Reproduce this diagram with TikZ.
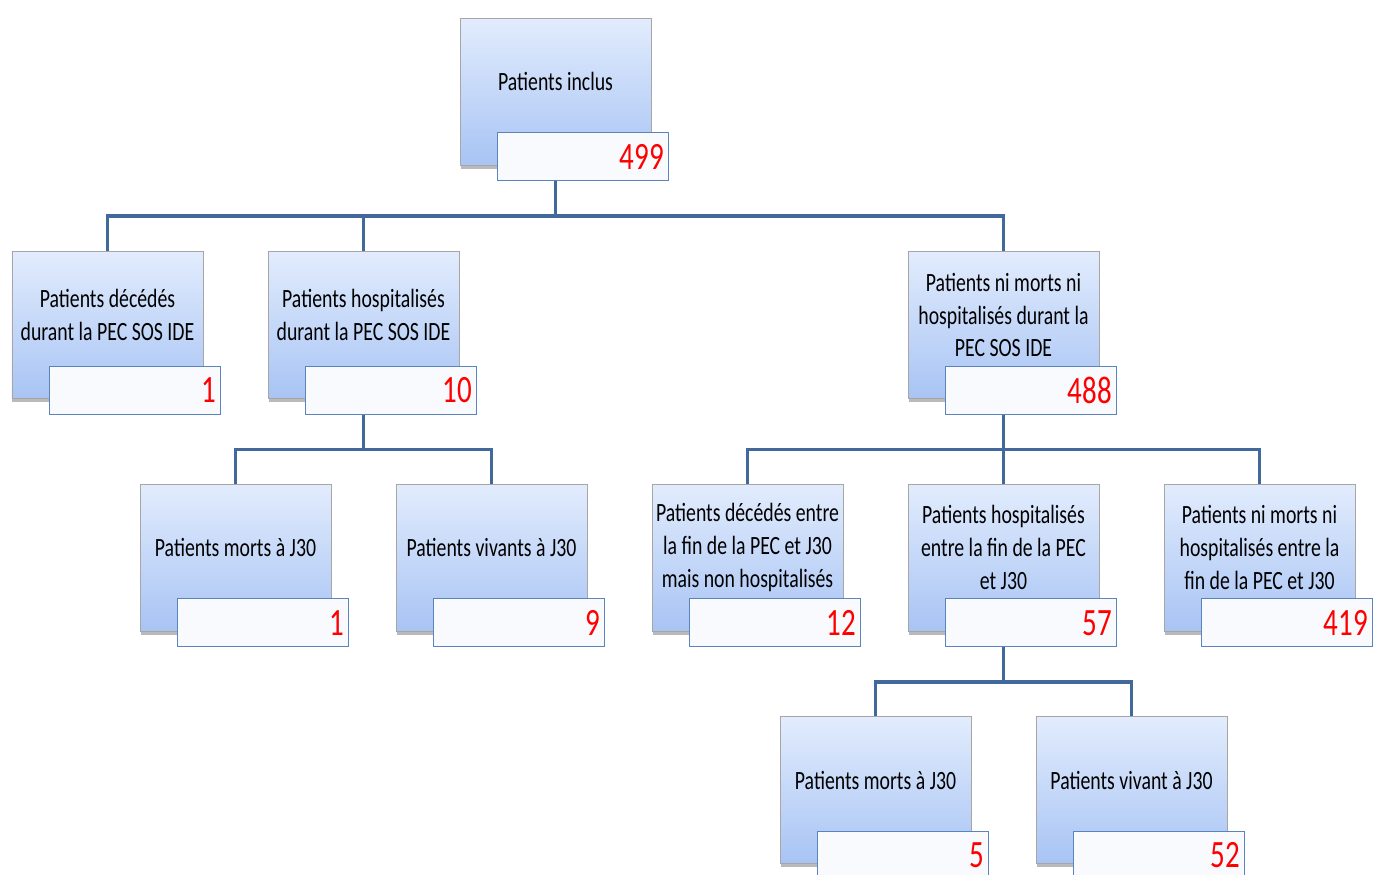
\documentclass[tikz,border=0pt]{standalone}
\usepackage{fontspec}
\setmainfont{Carlito}[FakeStretch=0.75]
\usetikzlibrary{shadows}
\usepackage{xcolor}
\definecolor{box-top}{HTML}{E2ECFD}
\definecolor{box-bottom}{HTML}{A8C4F4}
\definecolor{connector}{HTML}{41699C}
\definecolor{count-border}{HTML}{5B84BE}
\definecolor{count-fill}{HTML}{F8FAFE}

\begin{document}
\begin{tikzpicture}[
	patientbox/.style={draw=gray!70, line width=0.5pt, top color=box-top, bottom color=box-bottom,
		minimum width=3.82cm, minimum height=2.94cm, inner sep=0pt,
		drop shadow={shadow xshift=0.01cm, shadow yshift=-0.07cm, fill=black!60, opacity=0.45}},
	boxtext/.style={align=center, font=\fontsize{15pt}{18.7pt}\selectfont, inner sep=0pt},
	countbox/.style={draw=count-border, line width=0.8pt, fill=count-fill, anchor=south east,
		minimum width=3.42cm, minimum height=0.96cm, text width=3.22cm, align=right, inner xsep=0.1cm,
		text=red, font=\fontsize{22pt}{24pt}\selectfont},
	branch/.style={draw=connector, line width=2.2pt}
]
	\useasboundingbox (0,0) rectangle (27.48,-17.48);
	% top level
	\node[patientbox] (incl) at (11.11,-1.83) {};
	\node[boxtext] (tincl) at ([yshift=0.2cm]incl.center) {Patients inclus};
	\node[countbox] (nincl) at ([xshift=0.36cm,yshift=-0.32cm]incl.south east) {499};
	% during the PEC
	\node[patientbox] (dec) at (2.15,-6.5) {};
	\node[boxtext] (tdec) at ([yshift=0.2cm]dec.center) {Patients décédés\\durant la PEC SOS IDE};
	\node[countbox] (ndec) at ([xshift=0.36cm,yshift=-0.32cm]dec.south east) {1};
	\node[patientbox] (hosp) at (7.27,-6.5) {};
	\node[boxtext] (thosp) at ([yshift=0.2cm]hosp.center) {Patients hospitalisés\\durant la PEC SOS IDE};
	\node[countbox] (nhosp) at ([xshift=0.36cm,yshift=-0.32cm]hosp.south east) {10};
	\node[patientbox] (ni) at (20.07,-6.5) {};
	\node[boxtext] (tni) at ([yshift=0.2cm]ni.center) {Patients ni morts ni\\hospitalisés durant la\\PEC SOS IDE};
	\node[countbox] (nni) at ([xshift=0.36cm,yshift=-0.32cm]ni.south east) {488};
	% at J30
	\node[patientbox] (morts) at (4.71,-11.15) {};
	\node[boxtext] (tmorts) at ([yshift=0.2cm]morts.center) {Patients morts à J30};
	\node[countbox] (nmorts) at ([xshift=0.36cm,yshift=-0.32cm]morts.south east) {1};
	\node[patientbox] (viv) at (9.83,-11.15) {};
	\node[boxtext] (tviv) at ([yshift=0.2cm]viv.center) {Patients vivants à J30};
	\node[countbox] (nviv) at ([xshift=0.36cm,yshift=-0.32cm]viv.south east) {9};
	\node[patientbox] (dectwo) at (14.95,-11.15) {};
	\node[boxtext] (tdectwo) at ([yshift=0.2cm]dectwo.center) {Patients décédés entre\\la fin de la PEC et J30\\mais non hospitalisés};
	\node[countbox] (ndectwo) at ([xshift=0.36cm,yshift=-0.32cm]dectwo.south east) {12};
	\node[patientbox] (hosptwo) at (20.07,-11.15) {};
	\node[boxtext] (thosptwo) at ([yshift=0.2cm]hosptwo.center) {Patients hospitalisés\\entre la fin de la PEC\\et J30};
	\node[countbox] (nhosptwo) at ([xshift=0.36cm,yshift=-0.32cm]hosptwo.south east) {57};
	\node[patientbox] (nitwo) at (25.19,-11.15) {};
	\node[boxtext] (tnitwo) at ([yshift=0.2cm]nitwo.center) {Patients ni morts ni\\hospitalisés entre la\\fin de la PEC et J30};
	\node[countbox] (nnitwo) at ([xshift=0.36cm,yshift=-0.32cm]nitwo.south east) {419};
	% after hospitalisation
	\node[patientbox] (mortsthree) at (17.51,-15.8) {};
	\node[boxtext] (tmortsthree) at ([yshift=0.2cm]mortsthree.center) {Patients morts à J30};
	\node[countbox] (nmortsthree) at ([xshift=0.36cm,yshift=-0.32cm]mortsthree.south east) {5};
	\node[patientbox] (vivthree) at (22.63,-15.8) {};
	\node[boxtext] (tvivthree) at ([yshift=0.2cm]vivthree.center) {Patients vivant à J30};
	\node[countbox] (nvivthree) at ([xshift=0.36cm,yshift=-0.32cm]vivthree.south east) {52};
	% connectors
	\draw[branch] (incl.south |- nincl.south) -- ++(0,-0.69) -| (dec.north);
	\draw[branch] (incl.south |- nincl.south) -- ++(0,-0.69) -| (hosp.north);
	\draw[branch] (incl.south |- nincl.south) -- ++(0,-0.69) -| (ni.north);
	\draw[branch] (hosp.south |- nhosp.south) -- ++(0,-0.69) -| (morts.north);
	\draw[branch] (hosp.south |- nhosp.south) -- ++(0,-0.69) -| (viv.north);
	\draw[branch] (ni.south |- nni.south) -- ++(0,-0.69) -| (dectwo.north);
	\draw[branch] (ni.south |- nni.south) -- ++(0,-0.69) -| (hosptwo.north);
	\draw[branch] (ni.south |- nni.south) -- ++(0,-0.69) -| (nitwo.north);
	\draw[branch] (hosptwo.south |- nhosptwo.south) -- ++(0,-0.69) -| (mortsthree.north);
	\draw[branch] (hosptwo.south |- nhosptwo.south) -- ++(0,-0.69) -| (vivthree.north);
\end{tikzpicture}
\end{document}
